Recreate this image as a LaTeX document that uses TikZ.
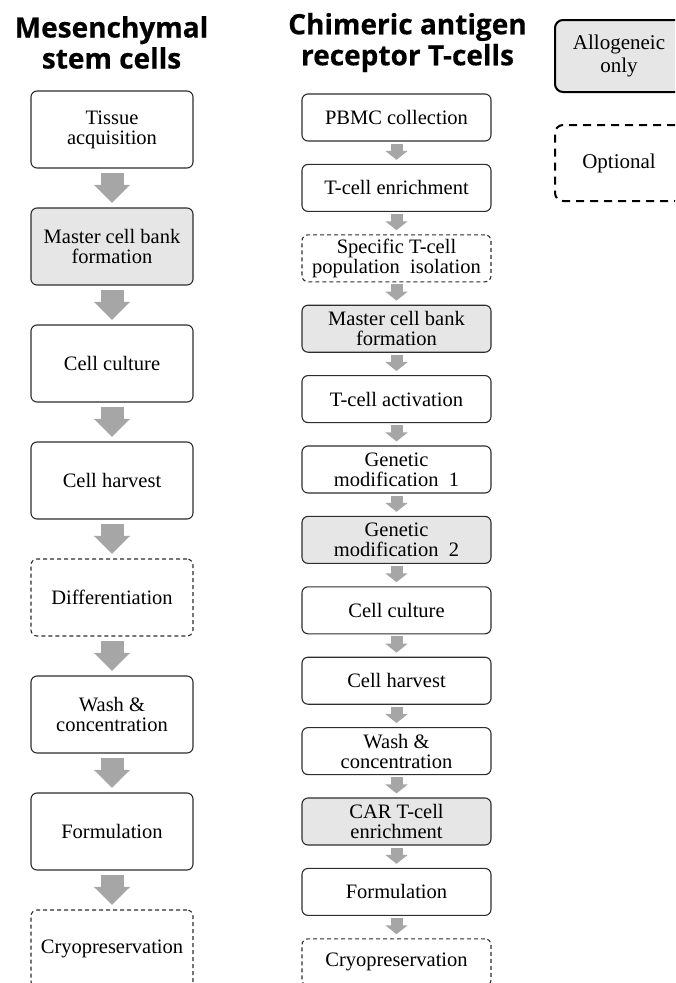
\documentclass[tikz,border=0pt]{standalone}
\usepackage{fontspec}
\setmainfont{Liberation Serif}
\newfontfamily\titlefont{Open Sans}[BoldFeatures={FakeBold=0.4}]
\usetikzlibrary{arrows.meta}

\definecolor{boxgray}{RGB}{231,230,230}
\definecolor{arrowgray}{RGB}{166,166,166}
\definecolor{edge}{RGB}{45,45,45}

\tikzset{
  stage/.style={draw=edge, line width=1.1pt, rounded corners=6pt, align=center,
    inner sep=2pt, font=\fontsize{20.5}{20}\selectfont},
  msc/.style={stage, minimum width=162pt, minimum height=77pt},
  cart/.style={stage, minimum width=189pt, minimum height=47pt},
  allo/.style={fill=boxgray},
  opt/.style={dash pattern=on 4pt off 3pt},
  heading/.style={align=center, inner sep=0pt,
    font=\titlefont\bfseries\fontsize{28}{31}\selectfont},
  bigflow/.style={draw=arrowgray, line width=23pt,
    -{Triangle[length=18pt, width=35pt, fill=arrowgray]}},
  smallflow/.style={draw=arrowgray, line width=12pt,
    -{Triangle[length=9pt, width=22pt, fill=arrowgray]}},
  legendbox/.style={draw=black, line width=2pt, rounded corners=8pt, align=center,
    minimum width=128pt, font=\fontsize{21}{23}\selectfont},
}

\begin{document}
\begin{tikzpicture}[x=1pt, y=-1pt]
\useasboundingbox (0,0) rectangle (675,983);
\clip (0,0) rectangle (675,983);

% column headings
\node[heading] (hmsc) at (111.5,42.5) {Mesenchymal\\stem cells};
\node[heading] (hcar) at (407.5,42.5) {Chimeric antigen\\receptor T-cells};

% mesenchymal stem cell process
\node[msc]          (m1) at (112,129.5) {Tissue\\acquisition};
\node[msc,allo]     (m2) at (112,246.5) {Master cell bank\\formation};
\node[msc]          (m3) at (112,363.5) {Cell culture};
\node[msc]          (m4) at (112,480.5) {Cell harvest};
\node[msc,opt]      (m5) at (112,597.5) {Differentiation};
\node[msc]          (m6) at (112,714.5) {Wash \&\\concentration};
\node[msc]          (m7) at (112,831.5) {Formulation};
\node[msc,opt]      (m8) at (112,948.5) {Cryopreservation};

\foreach \a/\b in {m1/m2,m2/m3,m3/m4,m4/m5,m5/m6,m6/m7,m7/m8}
  \draw[bigflow] ([yshift=-4.5pt]\a.south) -- ([yshift=4.5pt]\b.north);

% CAR T-cell process
\node[cart]         (c1)  at (396.5,117.5) {PBMC collection};
\node[cart]         (c2)  at (396.5,187.9) {T-cell enrichment};
\node[cart,opt]     (c3)  at (396.5,258.3) {Specific T-cell\\population\ \ isolation};
\node[cart,allo]    (c4)  at (396.5,328.7) {Master cell bank\\formation};
\node[cart]         (c5)  at (396.5,399.1) {T-cell activation};
\node[cart]         (c6)  at (396.5,469.5) {Genetic\\modification\ \ 1};
\node[cart,allo]    (c7)  at (396.5,539.9) {Genetic\\modification\ \ 2};
\node[cart]         (c8)  at (396.5,610.3) {Cell culture};
\node[cart]         (c9)  at (396.5,680.7) {Cell harvest};
\node[cart]         (c10) at (396.5,751.1) {Wash \&\\concentration};
\node[cart,allo]    (c11) at (396.5,821.5) {CAR T-cell\\enrichment};
\node[cart]         (c12) at (396.5,891.9) {Formulation};
\node[cart,opt]     (c13) at (396.5,962.3) {Cryopreservation};

\foreach \a/\b in {c1/c2,c2/c3,c3/c4,c4/c5,c5/c6,c6/c7,c7/c8,c8/c9,c9/c10,c10/c11,c11/c12,c12/c13}
  \draw[smallflow] ([yshift=-2pt]\a.south) -- ([yshift=4pt]\b.north);

% legend
\node[legendbox, allo, minimum height=72pt] (lallo) at (619,56) {Allogeneic\\only};
\node[legendbox, dash pattern=on 8pt off 6pt, minimum height=76pt] (lopt) at (619,163) {Optional};
\end{tikzpicture}
\end{document}
